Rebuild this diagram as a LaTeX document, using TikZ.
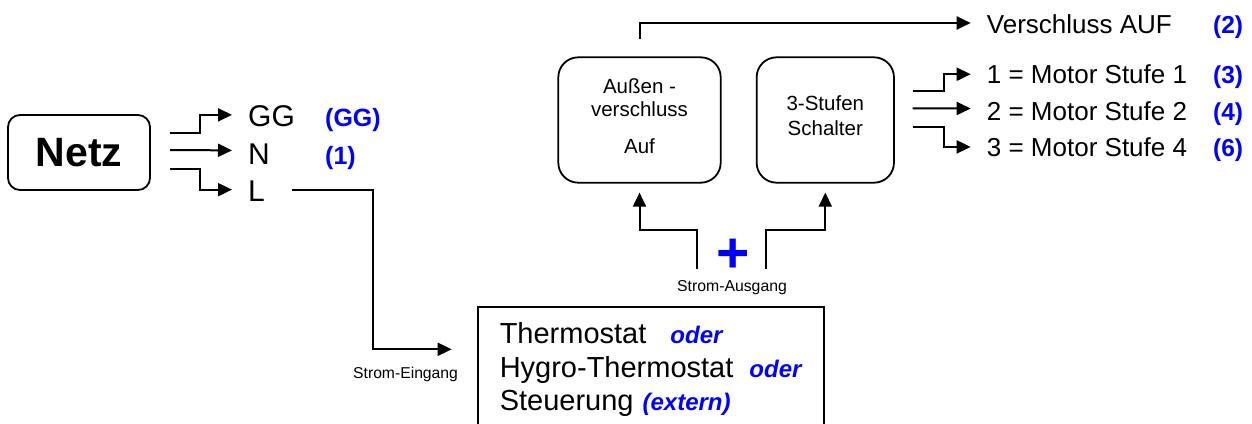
\documentclass[tikz,border=0pt]{standalone}
\usepackage{fontspec}
\setmainfont{Liberation Sans}
\usetikzlibrary{arrows.meta}
\newcommand{\fsz}[2]{\fontsize{#1}{#2}\selectfont}
\begin{document}
\begin{tikzpicture}[x=1pt,y=-1pt,
  box/.style={draw,line width=1.8pt,rounded corners=20pt,inner sep=0pt},
  lbl/.style={anchor=base west,inner sep=0pt},
  arr/.style={line width=2pt,-{Triangle[length=14pt,width=13pt]}},
  num/.style={anchor=base west,inner sep=0pt,text=blue,font=\fsz{24.5pt}{29pt}\bfseries}
]
\useasboundingbox (0,0) rectangle (1252,423);

% Netz
\node[box,rounded corners=12pt,minimum width=142pt,minimum height=75pt,font=\fsz{41pt}{49pt}\bfseries] (netz) at (79,152.5) {Netz};
\node[lbl,font=\fsz{30pt}{36pt}] (gg) at (248,126.7) {GG};
\node[lbl,font=\fsz{30pt}{36pt}] (n) at (248,164) {N};
\node[lbl,font=\fsz{30pt}{36pt}] (l) at (248,201) {L};
\node[num,font=\fsz{25pt}{30pt}\bfseries] (ggnum) at (325,126.7) {(GG)};
\node[num,font=\fsz{25pt}{30pt}\bfseries] (nnum) at (325,164) {(1)};

\coordinate (ggo) at (170,132.7);
\coordinate (no) at (170,150);
\coordinate (lo) at (170,169);
\draw[arr] (ggo) -- ++(30,0) |- ([xshift=-16pt,yshift=1.5pt]gg.west);
\draw[arr] (no) -- ([xshift=-16pt,yshift=3.3pt]n.west);
\draw[arr] (lo) -- ++(30,0) |- ([xshift=-16pt,yshift=1pt]l.west);

% Thermostat box
\node[draw,line width=1.8pt,anchor=north west,inner xsep=21.6pt,inner ysep=16pt,align=left,minimum width=346pt,font=\fsz{29pt}{33.5pt}] (therm) at (476.7,306)
 {Thermostat\hspace{24pt}{\color{blue}\fsz{24pt}{29pt}\bfseries\itshape oder}\\
  Hygro-Thermostat\hspace{16pt}{\color{blue}\fsz{24pt}{29pt}\bfseries\itshape oder}\\
  Steuerung\hspace{9pt}{\color{blue}\fsz{24pt}{29pt}\bfseries\itshape (extern)}};

\node[lbl,font=\fsz{15.7pt}{19pt}] (eing) at (353,378) {Strom-Eingang};
\coordinate (ein) at (451.7,349.3);
\coordinate (lbend) at (372.7,349.3);
\draw[arr] ([xshift=27pt,yshift=1pt]l.east) -| (lbend) -- (ein);

% upper boxes
\node[box,minimum width=162.4pt,minimum height=125.4pt,align=center,font=\fsz{20.5pt}{23.4pt}] (aussen) at (639.5,120)
 {Außen -\\verschluss\\[13.9pt]Auf\rule[-7.6pt]{0pt}{7.6pt}};
\node[box,minimum width=137.3pt,minimum height=125.4pt,align=center,font=\fsz{20.5pt}{25pt}] (stufen) at (825.3,120)
 {3-Stufen\\Schalter\rule[-8pt]{0pt}{8pt}};

% outputs
\node[lbl,font=\fsz{26pt}{31pt}] (versch) at (986.7,33.3) {Verschluss AUF};
\node[lbl,font=\fsz{26pt}{31pt}] (m1) at (986.7,83.3) {1 = Motor Stufe 1};
\node[lbl,font=\fsz{26pt}{31pt}] (m2) at (986.7,120) {2 = Motor Stufe 2};
\node[lbl,font=\fsz{26pt}{31pt}] (m4) at (986.7,156.7) {3 = Motor Stufe 4};
\node[num] (n2) at (1213,33.3) {(2)};
\node[num] (n3) at (1213,83.3) {(3)};
\node[num] (n4) at (1213,120) {(4)};
\node[num] (n6) at (1213,156.7) {(6)};

\draw[arr] ([yshift=17pt]aussen.north) |- ([xshift=-16pt,yshift=1pt]versch.west);
\draw[arr] ([xshift=17.7pt,yshift=29.3pt]stufen.east) -- ++(31,0) |- ([xshift=-16pt,yshift=-0.2pt]m1.west);
\draw[arr] ([xshift=17.7pt,yshift=11.7pt]stufen.east) -- ([xshift=-16pt,yshift=2.2pt]m2.west);
\draw[arr] ([xshift=17.7pt,yshift=-7.3pt]stufen.east) -- ++(31,0) |- ([xshift=-16pt,yshift=0.5pt]m4.west);

% Strom-Ausgang
\node[anchor=base,inner sep=0pt,font=\fsz{15.8pt}{19pt}] (ausg) at (732,291.7) {Strom-Ausgang};
\node[inner sep=0pt,text=blue,text height=34pt,text depth=0pt,font=\fsz{57pt}{59pt}\bfseries] (plus) at (733,255.5) {+};
\coordinate (outl) at (696.7,269.3);
\coordinate (outr) at (765.7,269.3);
\draw[arr] (outl) -- ++(0,-39.3) -| ([yshift=-9pt]aussen.south);
\draw[arr] (outr) -- ++(0,-39.3) -| ([yshift=-9pt]stufen.south);
\end{tikzpicture}
\end{document}
